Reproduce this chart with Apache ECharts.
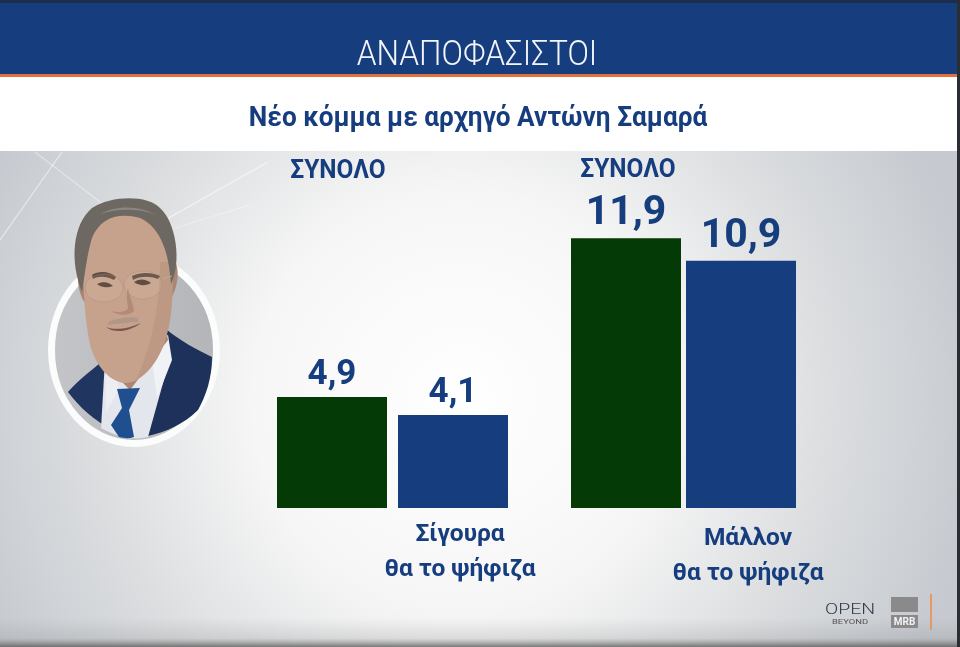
<!DOCTYPE html>
<html>
<head>
<meta charset="utf-8">
<title>ΑΝΑΠΟΦΑΣΙΣΤΟΙ</title>
<style>
  html, body { margin: 0; padding: 0; background: #fff; }
  #chart { width: 960px; height: 647px; }
</style>
<script src="https://cdn.jsdelivr.net/npm/echarts@6/dist/echarts.min.js"></script>
</head>
<body>
<div id="chart"></div>
<script>
// data
const headline = 'ΑΝΑΠΟΦΑΣΙΣΤΟΙ';
const subtitle = 'Νέο κόμμα με αρχηγό Αντώνη Σαμαρά';
const groupHeader = 'ΣΥΝΟΛΟ';
const categoriesSure = ['', 'Σίγουρα\nθα το ψήφιζα'];
const categoriesLikely = ['', 'Μάλλον\nθα το ψήφιζα'];
const valuesSure = [4.9, 4.1];
const valuesLikely = [11.9, 10.9];
const barColors = ['#033a05', '#163d7e'];

const BLUE = '#163d7e';
const FONT = 'Roboto, "Noto Sans", sans-serif';

var chart = echarts.init(document.getElementById('chart'));

function barSeries(idx, values, labelSize) {
  return {
    type: 'bar',
    xAxisIndex: idx,
    yAxisIndex: idx,
    barWidth: 110,
    data: values.map((v, i) => ({ value: v, itemStyle: { color: barColors[i] } })),
    label: {
      show: true,
      position: 'top',
      distance: 4,
      color: BLUE,
      fontFamily: FONT,
      fontWeight: 'bold',
      fontSize: labelSize,
      formatter: p => String(p.value).replace('.', ',')
    },
    silent: true
  };
}

function catAxis(idx, cats, margin) {
  return {
    type: 'category',
    gridIndex: idx,
    data: cats,
    axisLine: { show: false },
    axisTick: { show: false },
    axisLabel: {
      interval: 0,
      margin: margin,
      padding: [0, 0, 0, 14],
      color: BLUE,
      fontFamily: FONT,
      fontWeight: 'bold',
      fontSize: 24.5,
      lineHeight: 35
    }
  };
}

function valAxis(idx) {
  return { type: 'value', gridIndex: idx, min: 0, max: 14, show: false, splitLine: { show: false } };
}

// text squeezed a bit, the original font is a condensed one
function txt(x, y, text, size, weight, scaleX, color) {
  return {
    type: 'text', x: x, y: y, scaleX: scaleX || 1, z: 5,
    style: {
      x: 0, y: 0, text: text, fill: color || BLUE, align: 'center', verticalAlign: 'middle',
      font: (weight || 'normal') + ' ' + size + 'px ' + FONT
    }
  };
}

// the graphic component has no plain path type, so every path gets registered as a shape
var pathCount = 0;
function p(d, fill, extra) {
  var name = 'portrait' + (pathCount++);
  echarts.graphic.registerShape(name, echarts.graphic.extendPath(d, {}));
  return { type: name, z: 3, style: Object.assign({ fill: fill }, extra || {}) };
}

function streak(x1, y1, x2, y2, o) {
  return {
    type: 'line', z: 1, shape: { x1, y1, x2, y2 },
    style: { stroke: 'rgba(255,255,255,' + o + ')', lineWidth: 1.2 }
  };
}

// portrait, painted by hand since no photo can be loaded
const portrait = [
  { type: 'ellipse', z: 2, shape: { cx: 134, cy: 350, rx: 82.5, ry: 93.5 }, style: { fill: new echarts.graphic.LinearGradient(0, 0, 1, 0, [{ offset: 0, color: '#c3c5c8' }, { offset: 1, color: '#b3b5b8' }]), stroke: '#fbfcfc', lineWidth: 7 } },
  // suit
  p('M68 392 C80 378 95 368 106 358 L112 430 C94 420 80 408 68 392 Z', '#20355f'),
  p('M165 328 C178 340 198 350 212 357 C212 378 206 396 198 410 C184 424 166 432 148 436 L152 395 Z', '#1e315a'),
  // shirt
  p('M105 360 L165 335 L170 358 L148 437 C132 441 116 436 101 428 Z', '#e3e6ec'),
  p('M150 345 L168 335 L172 360 L157 398 Z', '#f0f2f6'),
  p('M105 360 L118 350 L118 392 L106 412 Z', '#eceef3'),
  // neck
  p('M100 345 L165 322 L168 340 L130 390 L112 372 Z', '#ad8573'),
  // tie
  p('M117 389 L140 388 L129 410 L134 437 C128 439 124 438 119 437 L111 425 L122 408 Z', '#1f4f8f'),
  // ears + head
  p('M170 262 C180 256 180 285 171 298 Z', '#a98572'),
  p('M83 270 C75 266 77 295 86 304 Z', '#a98572'),
  p('M83 262 C82 232 102 212 128 212 C155 212 170 232 172 262 C174 292 172 322 164 344 C156 366 140 384 124 383 C108 381 94 364 89 340 C85 318 83 290 83 262 Z', '#c6a28d'),
  p('M172 262 C174 292 172 322 164 344 C158 360 148 374 136 380 C150 350 160 310 160 262 Z', '#b48e79', { opacity: 0.5 }),
  // hair
  p('M82 292 C70 262 72 225 92 208 C112 195 148 195 160 208 C176 222 182 262 171 284 C169 255 162 228 140 218 C118 212 100 218 92 238 C87 254 85 274 82 292 Z', '#6d6862'),
  p('M100 214 C118 204 142 206 158 216 C142 208 118 208 100 214 Z', '#8b8680'),
  // brows, eyes, glasses
  p('M92 275 C100 270 110 272 116 277 L114 280 C106 276 98 276 93 279 Z', '#5c4a40'),
  p('M132 276 C140 272 152 272 160 276 L158 279 C150 276 140 276 133 280 Z', '#5c4a40'),
  p('M97 284 C103 281 109 282 113 286 C107 288 102 288 97 284 Z', '#4e3d35'),
  p('M134 282 C140 278 146 279 151 283 C146 286 139 286 134 282 Z', '#4e3d35'),
  { type: 'ellipse', z: 3, shape: { cx: 104, cy: 288, rx: 19, ry: 14 }, style: { fill: 'rgba(255,230,200,0.1)', stroke: 'rgba(160,140,130,0.4)', lineWidth: 1 } },
  { type: 'ellipse', z: 3, shape: { cx: 143, cy: 285, rx: 19, ry: 14 }, style: { fill: 'rgba(255,230,200,0.1)', stroke: 'rgba(160,140,130,0.4)', lineWidth: 1 } },
  { type: 'line', z: 3, shape: { x1: 162, y1: 279, x2: 172, y2: 276 }, style: { stroke: '#b5a8a0', lineWidth: 1 } },
  // nose and mouth
  p('M128 288 C130 298 134 306 134 311 C130 316 118 316 111 311 C118 313 126 312 128 308 C127 300 126 294 128 288 Z', '#a87f6b', { opacity: 0.65 }),
  p('M106 327 C116 331 130 328 141 323 C132 330 116 335 106 327 Z', '#7c564b'),
  p('M108 322 C118 318 130 316 138 318 L138 322 C128 322 118 324 108 325 Z', '#a39087', { opacity: 0.6 })
];

const decorations = [
  // backdrop bands
  { type: 'rect', z: 0, shape: { x: 0, y: 151, width: 960, height: 496 }, style: { fill: new echarts.graphic.RadialGradient(0.48, 0.5, 1.05, [{ offset: 0, color: '#ffffff' }, { offset: 0.4, color: '#f6f6f6' }, { offset: 0.7, color: '#dcdee0' }, { offset: 1, color: '#c6cad0' }]) } },
  { type: 'rect', z: 0, shape: { x: 0, y: 618, width: 960, height: 29 }, style: { fill: new echarts.graphic.LinearGradient(0, 0, 0, 1, [{ offset: 0, color: 'rgba(120,120,120,0)' }, { offset: 0.7, color: 'rgba(120,120,120,0.18)' }, { offset: 1, color: 'rgba(70,70,70,0.7)' }]) } },
  { type: 'rect', z: 0, shape: { x: 0, y: 77, width: 960, height: 74 }, style: { fill: '#ffffff' } },
  { type: 'rect', z: 0, shape: { x: 0, y: 0, width: 960, height: 74 }, style: { fill: BLUE } },
  { type: 'rect', z: 0, shape: { x: 0, y: 0, width: 960, height: 3 }, style: { fill: '#1d2e4d' } },
  { type: 'rect', z: 0, shape: { x: 0, y: 74, width: 960, height: 3 }, style: { fill: '#e2703a' } },
  { type: 'rect', z: 4, shape: { x: 957, y: 0, width: 3, height: 647 }, style: { fill: '#2a2d33' } },
  streak(0, 240, 62, 152, 0.55),
  streak(35, 152, 130, 225, 0.4),
  streak(165, 220, 268, 162, 0.6),
  streak(175, 228, 250, 205, 0.35),
  // heads
  txt(477, 56, headline, 35, '300', 0.905, '#f2f5fa'),
  txt(478, 119, subtitle, 27, 'bold', 0.97),
  txt(338, 171, groupHeader, 26, 'bold', 0.94),
  txt(628, 170, groupHeader, 26, 'bold', 0.94),
  // OPEN + MRB logos
  txt(850, 610, 'OPEN', 15, '300', 1.3, '#333b4a'),
  txt(850, 622, 'BEYOND', 7, 'normal', 1.35, '#555'),
  { type: 'rect', z: 3, shape: { x: 891, y: 597, width: 27, height: 15 }, style: { fill: '#8a8a8a' } },
  { type: 'rect', z: 3, shape: { x: 891, y: 615, width: 27, height: 13 }, style: { fill: '#8a8a8a' } },
  txt(904.5, 622, 'MRB', 10, 'bold', 1, '#f3f3f3'),
  { type: 'rect', z: 3, shape: { x: 930, y: 594, width: 2, height: 36 }, style: { fill: '#e59a66' } }
];

var option = {
  animation: false,
  backgroundColor: '#fff',
  grid: [
    { left: 271.5, width: 242, top: 190.5, height: 317.5 },
    { left: 568.5, width: 230, top: 190.5, height: 317.5 }
  ],
  xAxis: [catAxis(0, categoriesSure, 9), catAxis(1, categoriesLikely, 13)],
  yAxis: [valAxis(0), valAxis(1)],
  series: [barSeries(0, valuesSure, 35), barSeries(1, valuesLikely, 41)],
  graphic: { elements: decorations.concat(portrait) }
};
chart.setOption(option);
</script>
</body>
</html>
